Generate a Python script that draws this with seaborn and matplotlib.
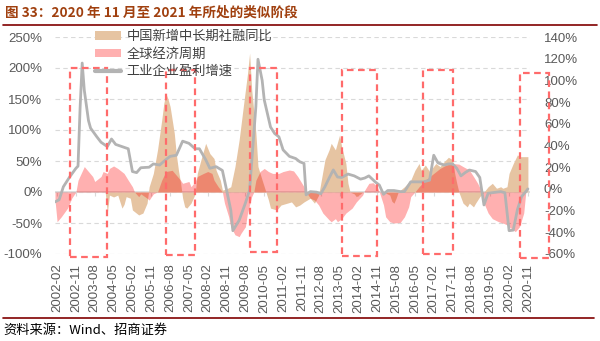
import matplotlib
matplotlib.use("Agg")
import matplotlib.pyplot as plt
import seaborn as sns
import pandas as pd
from matplotlib.patches import Patch, Rectangle
from matplotlib.lines import Line2D

# ---------------- data ----------------
tick_labels = ["2002-02", "2002-11", "2003-08", "2004-05", "2005-02", "2005-11", "2006-08",
               "2007-05", "2008-02", "2008-11", "2009-08", "2010-05", "2011-02", "2011-11",
               "2012-08", "2013-05", "2014-02", "2014-11", "2015-08", "2016-05", "2017-02",
               "2017-11", "2018-08", "2019-05", "2020-02", "2020-11"]

# 工业企业盈利增速 (right axis, %)
profit_dates = ["2002-01", "2002-03", "2002-05", "2002-08", "2002-11", "2002-12", "2003-01", "2003-02",
                "2003-03", "2003-05", "2003-06", "2003-09", "2003-11", "2004-02", "2004-04", "2004-06",
                "2004-09", "2004-12", "2005-02", "2005-04", "2005-06", "2005-10", "2005-12", "2006-03",
                "2006-06", "2006-08", "2006-11", "2007-02", "2007-05", "2007-08", "2007-10", "2008-01",
                "2008-03", "2008-06", "2008-09", "2008-11", "2009-01", "2009-02", "2009-05", "2009-08",
                "2009-10", "2010-01", "2010-02", "2010-04", "2010-05", "2010-08", "2010-10", "2010-12",
                "2011-02", "2011-05", "2011-08", "2011-10", "2011-12", "2012-01", "2012-03", "2012-06",
                "2012-08", "2012-10", "2012-12", "2013-02", "2013-04", "2013-06", "2013-09", "2013-12",
                "2014-03", "2014-05", "2014-07", "2014-10", "2014-12", "2015-02", "2015-04", "2015-07",
                "2015-10", "2015-12", "2016-03", "2016-09", "2016-12", "2017-02", "2017-04", "2017-07",
                "2017-09", "2017-11", "2018-01", "2018-03", "2018-05", "2018-07", "2018-10", "2018-12",
                "2019-02", "2019-04", "2019-06", "2019-10", "2019-12", "2020-02", "2020-04", "2020-06",
                "2020-08", "2020-10", "2020-11"]
profit_vals = [-12, -10, 2, 11, 19, 21, 75, 116,
               91, 63, 56, 48, 43, 39, 46, 41,
               39, 37, 16, 15, 19.5, 20, 23, 22,
               27, 30, 31, 44, 42, 37, 37, 27,
               19, 20.5, 17, -1, -19.5, -38.5, -29, -13,
               -1, 76, 119.5, 100, 82, 57, 51, 48,
               36, 30, 28, 25, 23.5, -5.5, -2.5, -3,
               -4.5, 2, 10, 17.5, 11, 10.5, 13.7, 12,
               9, 10, 12, 6.5, 3.5, -5, -1.5, -1.5,
               -2.5, -2.5, 6.5, 6.5, 8, 31, 24, 22,
               23, 23, 19, 12, 15, 17.4, 16, 10.5,
               -14.8, -4, -3.5, -2.5, -3.5, -38.5, -38, -19,
               -7, -2.5, 0]

# 中国新增中长期社融同比 (left axis, %)
credit_dates = ["2004-01", "2004-02", "2004-03", "2004-05", "2004-07", "2004-09", "2004-10", "2004-11",
                "2005-01", "2005-02", "2005-05", "2005-07", "2005-09", "2005-10", "2005-12", "2006-02",
                "2006-04", "2006-05", "2006-06", "2006-07", "2006-08", "2006-10", "2006-11", "2006-12",
                "2007-01", "2007-02", "2007-03", "2007-04", "2007-06", "2007-08", "2007-09", "2007-11",
                "2008-01", "2008-03", "2008-05", "2008-06", "2008-08", "2008-09", "2008-11", "2009-01",
                "2009-03", "2009-05", "2009-07", "2009-09", "2009-10", "2009-11", "2010-01", "2010-02",
                "2010-04", "2010-05", "2010-07", "2010-08", "2010-11", "2011-01", "2011-04", "2011-06",
                "2011-08", "2011-10", "2011-12", "2012-03", "2012-05", "2012-07", "2012-08", "2012-10",
                "2012-12", "2013-01", "2013-03", "2013-05", "2013-06", "2013-08", "2013-09", "2013-10",
                "2013-12", "2014-01", "2014-03", "2014-04", "2015-02", "2015-05", "2015-06", "2015-07",
                "2015-08", "2015-09", "2015-12", "2016-03", "2016-05", "2016-07", "2016-08", "2016-10",
                "2016-12", "2017-03", "2017-05", "2017-07", "2017-09", "2017-11", "2017-12", "2018-01",
                "2018-02", "2018-04", "2018-06", "2018-07", "2018-09", "2018-10", "2018-12", "2019-02",
                "2019-04", "2019-06", "2019-08", "2019-10", "2019-11", "2020-01", "2020-02", "2020-04",
                "2020-06", "2020-07", "2020-09", "2020-11"]
credit_vals = [0, -34, -5, -8, -5, -26, -20, -7.5,
               -10, -29, -37, -34, -18, 8.5, 30, 68,
               116, 143, 159, 150, 138, 95, 60, 35,
               15, -10, -24, -26, -18, -3, 30, 55,
               78.5, 62, 54, 35, 19, 3, 5, 8.5,
               41, 84, 138, 191, 224, 165, 95, 41,
               19, 8.5, -13, -26, -29, -21, -18, -16,
               -24, -21, -16, -10, -18, -5, 14, 52,
               68, 78.5, 68, 92, 73, 46, 14, 0,
               -3, -7.5, -3, 0, 0, -5, -15, -18,
               -10, 0, 8.5, 19, 35, 46, 35, 43.5,
               33, 46, 41, 49, 56, 52, 30, 14,
               0, -18, -24, -18, -24, -18, -7.5, 0,
               8.5, 14, 6, 8.5, 6, 8.5, 30, 46,
               60, 57, 57, 57]

# 全球经济周期 (left axis, %)
cycle_dates = ["2002-01", "2002-02", "2002-04", "2002-07", "2002-09", "2002-11", "2002-12", "2003-03",
               "2003-05", "2003-07", "2003-08", "2003-11", "2003-12", "2004-02", "2004-03", "2004-05",
               "2004-07", "2004-10", "2004-12", "2005-02", "2005-03", "2005-05", "2005-06", "2005-09",
               "2005-10", "2005-12", "2006-02", "2006-04", "2006-06", "2006-09", "2006-11", "2007-01",
               "2007-02", "2007-05", "2007-06", "2007-08", "2007-09", "2007-12", "2008-02", "2008-04",
               "2008-05", "2008-07", "2008-09", "2008-10", "2008-12", "2009-01", "2009-03", "2009-05",
               "2009-06", "2009-08", "2009-09", "2009-11", "2009-12", "2010-01", "2010-03", "2010-05",
               "2010-07", "2010-09", "2010-12", "2011-02", "2011-05", "2011-07", "2011-09", "2011-12",
               "2012-01", "2012-03", "2012-05", "2012-07", "2012-09", "2012-12", "2013-01", "2013-03",
               "2013-04", "2013-06", "2013-08", "2013-11", "2014-01", "2014-04", "2014-05", "2014-07",
               "2014-09", "2014-11", "2014-12", "2015-02", "2015-03", "2015-05", "2015-07", "2015-10",
               "2015-12", "2016-02", "2016-03", "2016-05", "2016-07", "2016-10", "2017-02", "2017-05",
               "2017-08", "2017-11", "2018-02", "2018-04", "2018-07", "2018-09", "2018-11", "2019-01",
               "2019-02", "2019-04", "2019-06", "2019-09", "2019-11", "2020-01", "2020-02", "2020-05",
               "2020-07", "2020-09", "2020-10"]
cycle_vals = [-13, -48, -40, -26, -10, 0, 19, 41,
              33, 25, 17, 25, 33, 30, 38, 42,
              38, 30, 19, 8.5, 0, -7.5, -3, -10,
              -13, -3, 0, 19, 33, 35, 27, 19,
              14, 17, 8.5, 17, 25, 30, 33, 30,
              19, 8.5, 0, -18, -40, -56, -69, -72,
              -66, -56, -34, -7.5, 0, 19, 33, 38,
              33, 30, 30, 33, 35.5, 34, 25, 8.5,
              0, -10, -13, -21, -34, -45, -48, -43,
              -48, -43, -34, -26, -16, -5, 3, 14,
              15, 8.5, 0, -21, -40, -48, -50, -49,
              -40, -24, -7.5, 0, 8.5, 19, 30, 38,
              43.5, 46, 45, 41, 35.5, 25, 14, 0,
              -18, -34, -43, -48, -50, -53, -56, -64,
              -56, -34, 0]

# highlighted periods (dashed boxes)
box_start = ["2002-08", "2006-06", "2009-10", "2013-06", "2016-09", "2020-07"]
box_end = ["2004-02", "2007-08", "2010-11", "2014-11", "2017-11", "2021-09"]
box_top = [200, 196, 200, 196, 196, 192]
box_bottom = [-105, -102, -97, -103, -100, -106]

legend_labels = ["中国新增中长期社融同比", "全球经济周期", "工业企业盈利增速"]
title_text = "图 33：2020 年 11 月至 2021 年所处的类似阶段"
source_text = "资料来源：Wind、招商证券"


def month_index(s):
    y, m = s.split("-")
    return (int(y) - 2002) * 12 + int(m) - 1


# ---------------- style ----------------
sns.set_theme(style="white")
CJK = ["Noto Sans CJK SC", "DejaVu Sans"]
LATIN = ["Liberation Sans", "Noto Sans CJK SC", "DejaVu Sans"]
plt.rcParams["font.family"] = LATIN

TAN = "#E6C4A2"
PINK = "#FF0000"
GRAY = "#B3B3B3"
BOX = "#FF6B6B"
GRID = "#D9D9D9"
TICKC = "#595959"

fig = plt.figure(figsize=(6, 3.41), dpi=100)
ax = fig.add_axes([55 / 600, 1 - 254 / 341, 475 / 600, 217 / 341])
ax2 = ax.twinx()

credit = pd.DataFrame({"x": [month_index(d) for d in credit_dates], "v": credit_vals})
cycle = pd.DataFrame({"x": [month_index(d) for d in cycle_dates], "v": cycle_vals})
profit = pd.DataFrame({"x": [month_index(d) for d in profit_dates], "v": profit_vals})

ax.fill_between(credit["x"], credit["v"], 0, color=TAN, lw=0, zorder=2)
ax.fill_between(cycle["x"], cycle["v"], 0, color=PINK, alpha=0.31, lw=0, zorder=3)
sns.lineplot(data=profit, x="x", y="v", ax=ax2, color=GRAY, lw=2.0, zorder=4)

ax.set_xlim(0, 227)
ax.set_ylim(-100, 250)
ax2.set_ylim(-60, 140)
ax.set_yticks(range(-100, 251, 50))
ax.set_yticklabels([f"{v}%" for v in range(-100, 251, 50)])
ax2.set_yticks(range(-60, 141, 20))
ax2.set_yticklabels([f"{v}%" for v in range(-60, 141, 20)])

ax.yaxis.grid(True, ls=(0, (4, 3)), color=GRID, lw=0.8)
ax.set_axisbelow(True)
ax.axhline(0, color=GRID, lw=1.2, zorder=1)

tick_pos = [month_index(t) for t in tick_labels]
ax.set_xticks(tick_pos)
ax.set_xticklabels(tick_labels, rotation=90)
ax.tick_params(axis="x", length=0, pad=7, labelsize=9.5, labelcolor=TICKC)
ax.tick_params(axis="y", length=0, pad=9, labelsize=9.5, labelcolor=TICKC)
ax2.tick_params(axis="y", length=0, pad=10, labelsize=9.5, labelcolor=TICKC)
ax.set_xlabel("")
ax.set_ylabel("")
ax2.set_xlabel("")
ax2.set_ylabel("")
for a in (ax, ax2):
    for s in a.spines.values():
        s.set_visible(False)

# small category ticks along the zero line
sec = ax.secondary_xaxis(100 / 350)
sec.set_xticks(tick_pos)
sec.set_xticklabels([])
sec.tick_params(axis="x", length=3, width=0.8, color=GRID, direction="out")
for s in sec.spines.values():
    s.set_visible(False)

# dashed boxes
for s, e, t, b in zip(box_start, box_end, box_top, box_bottom):
    x0 = month_index(s)
    x1 = month_index(e)
    r = Rectangle((x0, b), x1 - x0, t - b, transform=ax.transData, fill=False,
                  edgecolor=BOX, lw=1.6, ls=(0, (3, 2)), clip_on=False, zorder=6)
    ax2.add_patch(r)

handles = [Patch(facecolor=TAN, edgecolor="none"),
           Patch(facecolor=PINK, alpha=0.31, edgecolor="none"),
           Line2D([], [], color=GRAY, lw=3)]
leg = fig.legend(handles, legend_labels, loc="upper left",
                 bbox_to_anchor=(95 / 600, 1 - 30 / 341), bbox_transform=fig.transFigure,
                 frameon=False, prop={"family": CJK, "size": 9.5}, handlelength=2.0,
                 handleheight=0.6, handletextpad=0.4, labelspacing=0.35, borderpad=0,
                 borderaxespad=0)
for t in leg.get_texts():
    t.set_color("#404040")

fig.text(5 / 600, 1 - 12.5 / 341, title_text, fontsize=9.8, fontweight="bold",
         color="#A0400F", va="center", ha="left", family=CJK)
fig.add_artist(Line2D([0.005, 0.995], [1 - 24.5 / 341] * 2, color="#800000", lw=1.2,
                      transform=fig.transFigure))
fig.add_artist(Line2D([0.005, 0.99], [1 - 318 / 341] * 2, color="#800000", lw=1.2,
                      transform=fig.transFigure))
fig.text(3 / 600, 1 - 330 / 341, source_text, fontsize=9.5, color="#000000",
         va="center", ha="left", family=CJK)

fig.savefig("out.png", dpi=100)
